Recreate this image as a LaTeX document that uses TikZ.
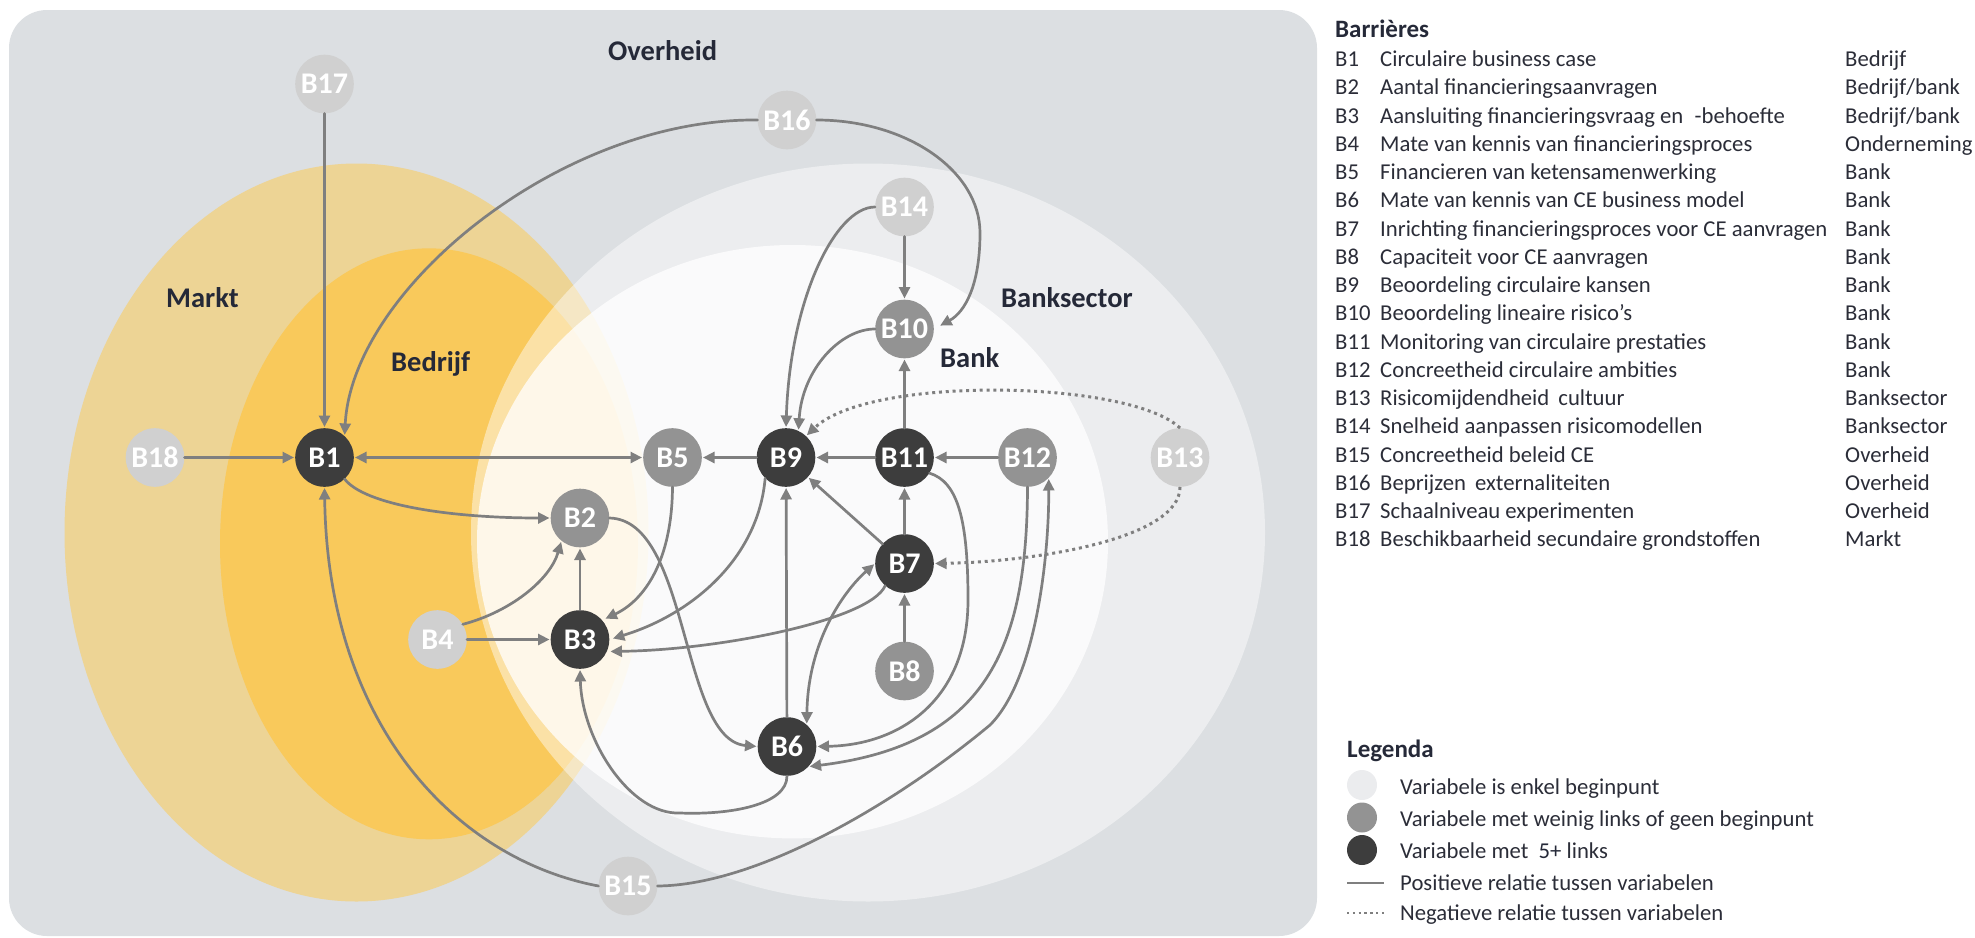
\documentclass[tikz,border=0pt]{standalone}
\usepackage{fontspec}
\setmainfont{Carlito}
\usetikzlibrary{arrows.meta}
\definecolor{bg}{HTML}{DCDFE2}
\definecolor{markt}{HTML}{EDD495}
\definecolor{bedrijf}{HTML}{F9C95B}
\definecolor{nlight}{HTML}{D0D0D0}
\definecolor{nmed}{HTML}{939393}
\definecolor{ndark}{HTML}{3D3D3D}
\definecolor{edgec}{HTML}{7F7F7F}
\definecolor{lbl}{HTML}{252938}
\definecolor{txt}{HTML}{2B2D38}
\definecolor{legl}{HTML}{EBECEE}
\newcommand\legrow[4]{%
  \node[li] (code#1) at (1335,{66.7+(#1-1)*28.25}) {#2};
  \node[li] (desc#1) at (1380,{66.7+(#1-1)*28.25}) {#3};
  \node[li] (cat#1) at (1845,{66.7+(#1-1)*28.25}) {#4};}
\begin{document}
\begin{tikzpicture}[x=1pt,y=-1pt,
  nodebase/.style={circle,minimum size=58.6pt,inner sep=0pt,text=white,font=\fontsize{30}{30}\selectfont\bfseries},
  lightn/.style={nodebase,fill=nlight},
  medn/.style={nodebase,fill=nmed},
  darkn/.style={nodebase,fill=ndark},
  arr/.style={draw=edgec,line width=2.7pt,line cap=round,-{Triangle[length=11.5pt,width=11pt]},shorten >=1pt},
  darr/.style={arr,{Triangle[length=11.5pt,width=11pt]}-{Triangle[length=11.5pt,width=11pt]},shorten <=1pt},
  neg/.style={arr,line cap=butt,line width=3pt,dash pattern=on 3pt off 3.8pt},
  region/.style={font=\fontsize{28.5}{30}\selectfont\bfseries,text=lbl,inner sep=0pt,anchor=base west},
  ltitle/.style={font=\fontsize{25}{25}\selectfont\bfseries,text=lbl,inner sep=0pt,anchor=base west},
  li/.style={font=\fontsize{22.7}{22.7}\selectfont,text=txt,inner sep=0pt,anchor=base west},
  legdot/.style={circle,minimum size=30pt,inner sep=0pt}
]
\useasboundingbox (0,0) rectangle (1975,937);
% regions
\path[fill=bg, rounded corners=38pt] (9,10) rectangle (1317,936);
\fill[markt] (356.5,532.5) ellipse [x radius=292, y radius=369];
\fill[bedrijf] (429,543.8) ellipse [x radius=209, y radius=295.5];
\fill[white,fill opacity=0.46] (868,532.5) ellipse [x radius=397, y radius=369];
\fill[white,fill opacity=0.76] (792.5,541.7) ellipse [x radius=315.5, y radius=296.7];
% region labels
\node[region] (lOverheid) at (608,60) {Overheid};
\node[region] (lMarkt) at (166,307) {Markt};
\node[region] (lBedrijf) at (391,371) {Bedrijf};
\node[region] (lBanksector) at (1001,307) {Banksector};
\node[region] (lBank) at (940,367) {Bank};
% nodes
\node[lightn] (B17) at (324.5,84) {B17};
\node[lightn] (B16) at (787,120) {B16};
\node[lightn] (B14) at (904.5,207) {B14};
\node[medn] (B10) at (904.5,329) {B10};
\node[lightn] (B18) at (155,457.5) {B18};
\node[darkn] (B1) at (324.5,457.5) {B1};
\node[medn] (B5) at (672.5,457.5) {B5};
\node[darkn] (B9) at (786,457.5) {B9};
\node[darkn] (B11) at (904.5,457.5) {B11};
\node[medn] (B12) at (1027.5,457.5) {B12};
\node[lightn] (B13) at (1180,457.5) {B13};
\node[medn] (B2) at (580,518) {B2};
\node[darkn] (B7) at (904.5,563.5) {B7};
\node[lightn] (B4) at (437.5,639.5) {B4};
\node[darkn] (B3) at (580,639.5) {B3};
\node[medn] (B8) at (904.5,671) {B8};
\node[darkn] (B6) at (787,746.5) {B6};
\node[lightn] (B15) at (628,886) {B15};
% connectors
\draw[arr] (B17) -- (B1);
\draw[arr] (B18) -- (B1);
\draw[darr] (B1) -- (B5);
\draw[arr] (B16.west) .. controls (560,118) and (352,290) .. (B1.47);
\draw[arr,shorten >=7pt] (B16.east) .. controls (907,120) and (980,171) .. (980,233) .. controls (980,285) and (965,312) .. (B10.east);
\draw[arr] (B14) -- (B10);
\draw[arr] (B14.west) .. controls (835,207) and (790,300) .. (B9.north);
\draw[arr] (B10.west) .. controls (840,329) and (802,370) .. (B9.65);
\draw[arr] (B11) -- (B10);
\draw[neg] (B13.north) .. controls (1130,380) and (870,375) .. (B9.47);
\draw[neg] (B13.south) .. controls (1180,540) and (1030,562) .. (B7.east);
\draw[arr] (B12) -- (B11);
\draw[arr] (B11) -- (B9);
\draw[arr] (B9) -- (B5);
\draw[arr] (B7) -- (B11);
\draw[arr] (B8) -- (B7);
\draw[arr] (B7) -- (B9);
\draw[arr] (B6) -- (B9);
\draw[darr] (B7.west) .. controls (845,590) and (808,640) .. (B6.48);
\draw[arr,shorten >=3.5pt] (B7.-131) .. controls (870,620) and (720,650) .. (B3.-24);
\draw[arr,shorten >=3.5pt] (B9.-135) .. controls (758,560) and (690,615) .. (B3.east);
\draw[arr,shorten >=3.5pt] (B5.south) .. controls (672,560) and (645,600) .. (B3.41);
\draw[arr] (B2.east) .. controls (690,520) and (680,740) .. (B6.west);
\draw[arr] (B6.south) .. controls (787,805) and (730,815) .. (680,813) .. controls (630,815) and (582,740) .. (B3.south);
\draw[arr] (B11.-32) .. controls (958,482) and (968,520) .. (968,600) .. controls (968,700) and (900,745) .. (B6.east);
\draw[arr] (B12.south) .. controls (1027,650) and (985,745) .. (B6.-43);
\draw[arr] (B15.east) .. controls (760,885) and (900,800) .. (990,725) .. controls (1035,680) and (1049,560) .. (B12.-44);
\draw[arr] (B15.west) .. controls (460,860) and (328,730) .. (B1.south);
\draw[arr] (B1.-47) .. controls (365,505) and (450,518) .. (B2.west);
\draw[arr] (B4.31) .. controls (510,612) and (550,580) .. (B2.-129);
\draw[arr] (B4) -- (B3);
\draw[arr] (B3) -- (B2);
% list of barriers
\node[ltitle] (tBar) at (1335,37) {Barrières};
\legrow{1}{B1}{Circulaire business case}{Bedrijf}
\legrow{2}{B2}{Aantal financieringsaanvragen}{Bedrijf/bank}
\legrow{3}{B3}{Aansluiting financieringsvraag en\hspace{0.5em}-behoefte}{Bedrijf/bank}
\legrow{4}{B4}{Mate van kennis van financieringsproces}{Onderneming}
\legrow{5}{B5}{Financieren van ketensamenwerking}{Bank}
\legrow{6}{B6}{Mate van kennis van CE business model}{Bank}
\legrow{7}{B7}{Inrichting financieringsproces voor CE aanvragen}{Bank}
\legrow{8}{B8}{Capaciteit voor CE aanvragen}{Bank}
\legrow{9}{B9}{Beoordeling circulaire kansen}{Bank}
\legrow{10}{B10}{Beoordeling lineaire risico’s}{Bank}
\legrow{11}{B11}{Monitoring van circulaire prestaties}{Bank}
\legrow{12}{B12}{Concreetheid circulaire ambities}{Bank}
\legrow{13}{B13}{Risicomijdendheid\hspace{0.4em}cultuur}{Banksector}
\legrow{14}{B14}{Snelheid aanpassen risicomodellen}{Banksector}
\legrow{15}{B15}{Concreetheid beleid CE}{Overheid}
\legrow{16}{B16}{Beprijzen\hspace{0.4em}externaliteiten}{Overheid}
\legrow{17}{B17}{Schaalniveau experimenten}{Overheid}
\legrow{18}{B18}{Beschikbaarheid secundaire grondstoffen}{Markt}
% legend
\node[ltitle] (tLeg) at (1347,757) {Legenda};
\node[legdot,fill=legl] (lc1) at (1362,785) {};
\node[legdot,fill=nmed] (lc2) at (1362,817.5) {};
\node[legdot,fill=ndark] (lc3) at (1362,850) {};
\coordinate (lp1) at (1347,883);
\coordinate (lp2) at (1384,883);
\coordinate (ln1) at (1347,913);
\coordinate (ln2) at (1384,913);
\draw[draw=edgec,line width=2.8pt] (lp1) -- (lp2);
\draw[draw=edgec,line width=2.4pt,dash pattern=on 2.4pt off 3.4pt] (ln1) -- (ln2);
\node[li] (lt1) at (1400,794) {Variabele is enkel beginpunt};
\node[li] (lt2) at (1400,826) {Variabele met weinig links of geen beginpunt};
\node[li] (lt3) at (1400,858) {Variabele met\hspace{0.45em}{\color{lbl}5+} links};
\node[li] (lt4) at (1400,890) {Positieve relatie tussen variabelen};
\node[li] (lt5) at (1400,920) {Negatieve relatie tussen variabelen};
\end{tikzpicture}
\end{document}
